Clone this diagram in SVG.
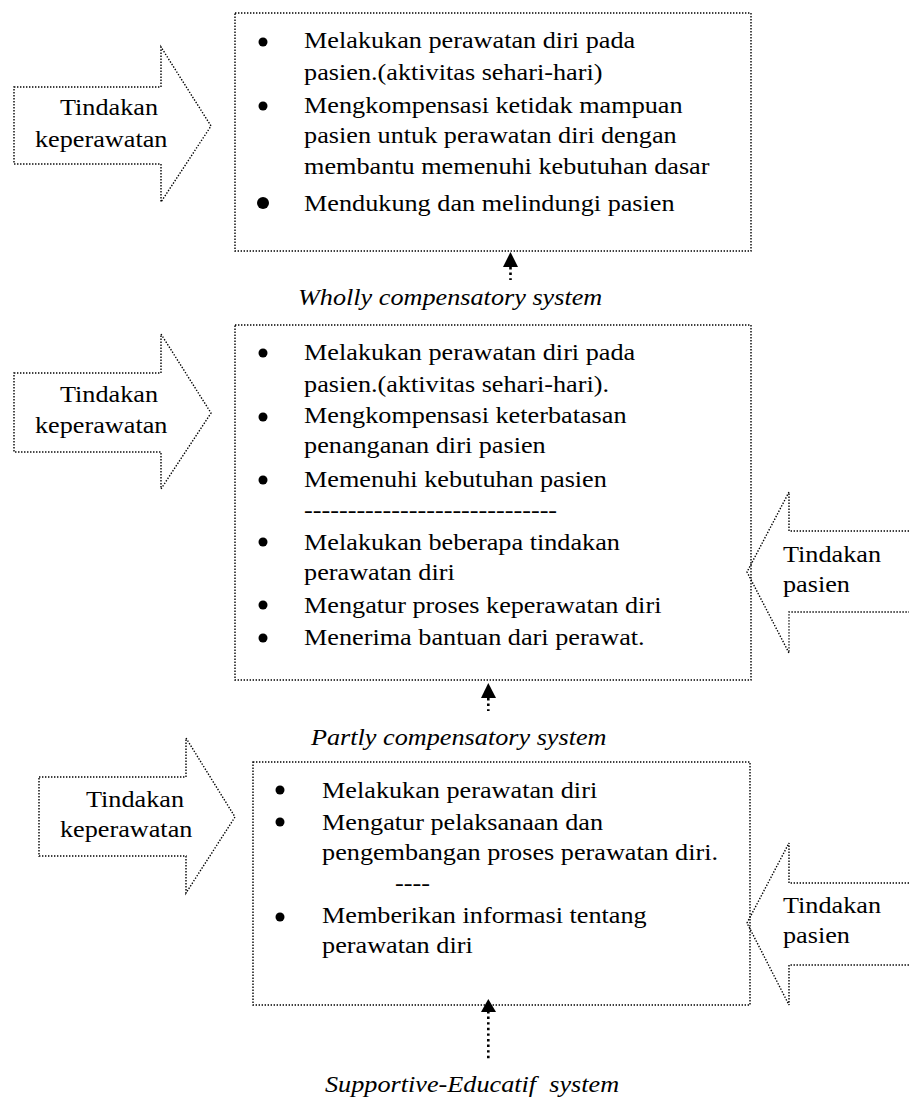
<svg xmlns="http://www.w3.org/2000/svg" width="909" height="1100" viewBox="0 0 909 1100">
<defs>
<style>
.box{fill:none;stroke:#000;stroke-width:1.4;stroke-dasharray:1.4 1.6}
.arw{fill:none;stroke:#000;stroke-width:1.4;stroke-dasharray:1.4 1.6}
.t{font-family:"Liberation Serif","Times New Roman",serif;font-size:23px;fill:#000}
.i{font-family:"Liberation Serif","Times New Roman",serif;font-size:23px;font-style:italic;fill:#000}
.b{fill:#000}
.shaft{stroke:#000;stroke-width:2.6;stroke-dasharray:2.4 3.2;fill:none}
.head{fill:#000}
</style>
</defs>
<rect width="909" height="1100" fill="#fff"/>

<g id="arrow-kep-1">
<path class="arw" d="M14,87 H161 V47 L211,126 L161,202 V164 H14 Z"/>
<g transform="scale(1.14,1)"><text class="t" x="52.6" y="115">Tindakan</text><text class="t" x="30.7" y="147">keperawatan</text></g>
</g>

<g id="box-wholly">
<rect class="box" x="235" y="13" width="516" height="238"/>
<circle class="b" cx="263" cy="42" r="4.5"/>
<circle class="b" cx="263" cy="106" r="4.5"/>
<circle class="b" cx="263" cy="203" r="6"/>
<g transform="scale(1.14,1)">
<text class="t" x="266.7" y="48">Melakukan perawatan diri pada</text>
<text class="t" x="266.7" y="80">pasien.(aktivitas sehari-hari)</text>
<text class="t" x="266.7" y="113">Mengkompensasi ketidak mampuan</text>
<text class="t" x="266.7" y="143">pasien untuk perawatan diri dengan</text>
<text class="t" x="266.7" y="174">membantu memenuhi kebutuhan dasar</text>
<text class="t" x="266.7" y="211">Mendukung dan melindungi pasien</text>
</g>
</g>

<g id="label-wholly"><g transform="scale(1.14,1)"><text class="i" x="261.4" y="305">Wholly compensatory system</text></g></g>

<g id="arrow-kep-2">
<path class="arw" d="M14,373 H161 V334 L211,413 L161,489 V452 H14 Z"/>
<g transform="scale(1.14,1)"><text class="t" x="52.6" y="402">Tindakan</text><text class="t" x="30.7" y="433">keperawatan</text></g>
</g>

<g id="box-partly">
<rect class="box" x="235" y="325" width="516" height="355"/>
<circle class="b" cx="263" cy="353" r="4.5"/>
<circle class="b" cx="263" cy="417" r="4.5"/>
<circle class="b" cx="263" cy="480" r="4.5"/>
<circle class="b" cx="263" cy="542" r="4.5"/>
<circle class="b" cx="263" cy="605" r="4.5"/>
<circle class="b" cx="263" cy="638" r="4.5"/>
<g transform="scale(1.14,1)">
<text class="t" x="266.7" y="360">Melakukan perawatan diri pada</text>
<text class="t" x="266.7" y="392">pasien.(aktivitas sehari-hari).</text>
<text class="t" x="266.7" y="423">Mengkompensasi keterbatasan</text>
<text class="t" x="266.7" y="453">penanganan diri pasien</text>
<text class="t" x="266.7" y="487">Memenuhi kebutuhan pasien</text>
<text class="t" x="266.7" y="518" textLength="222" lengthAdjust="spacingAndGlyphs">-----------------------------</text>
<text class="t" x="266.7" y="550">Melakukan beberapa tindakan</text>
<text class="t" x="266.7" y="580">perawatan diri</text>
<text class="t" x="266.7" y="613">Mengatur proses keperawatan diri</text>
<text class="t" x="266.7" y="645">Menerima bantuan dari perawat.</text>
</g>
</g>

<g id="arrow-pasien-2">
<path class="arw" d="M909,531 H789 V492 L747,572 L789,653 V612 H909"/>
<g transform="scale(1.14,1)"><text class="t" x="686.8" y="562">Tindakan</text><text class="t" x="686.8" y="592">pasien</text></g>
</g>

<g id="label-partly"><g transform="scale(1.14,1)"><text class="i" x="272.8" y="745">Partly compensatory system</text></g></g>

<g id="arrow-kep-3">
<path class="arw" d="M39,777 H186 V738 L235,817 L186,893 V856 H39 Z"/>
<g transform="scale(1.14,1)"><text class="t" x="75.4" y="807">Tindakan</text><text class="t" x="52.6" y="837">keperawatan</text></g>
</g>

<g id="box-supportive">
<rect class="box" x="253" y="762" width="497" height="243"/>
<circle class="b" cx="280" cy="790" r="4.5"/>
<circle class="b" cx="280" cy="822" r="4.5"/>
<circle class="b" cx="280" cy="917" r="4.5"/>
<g transform="scale(1.14,1)">
<text class="t" x="282.5" y="798">Melakukan perawatan diri</text>
<text class="t" x="282.5" y="830">Mengatur pelaksanaan dan</text>
<text class="t" x="282.5" y="860">pengembangan proses perawatan diri.</text>
<text class="t" x="346.5" y="891">----</text>
<text class="t" x="282.5" y="923">Memberikan informasi tentang</text>
<text class="t" x="282.5" y="953">perawatan diri</text>
</g>
</g>

<g id="arrow-pasien-3">
<path class="arw" d="M909,883 H789 V843 L747,923 L789,1005 V965 H909"/>
<g transform="scale(1.14,1)"><text class="t" x="686.8" y="913">Tindakan</text><text class="t" x="686.8" y="943">pasien</text></g>
</g>

<g id="label-supportive"><g transform="scale(1.14,1)"><text class="i" x="285.1" y="1092" xml:space="preserve">Supportive-Educatif  system</text></g></g>

<g id="connectors">
<path class="shaft" d="M510.5,267 V280"/>
<path class="head" d="M510.5,252 L503,267 L518,267 Z"/>
<path class="shaft" d="M488.3,698 V711"/>
<path class="head" d="M488.3,683 L481,698 L496,698 Z"/>
<path class="shaft" d="M488.3,1011 V1061"/>
<path class="head" d="M488.3,999 L481,1012 L496,1012 Z"/>
</g>
</svg>
